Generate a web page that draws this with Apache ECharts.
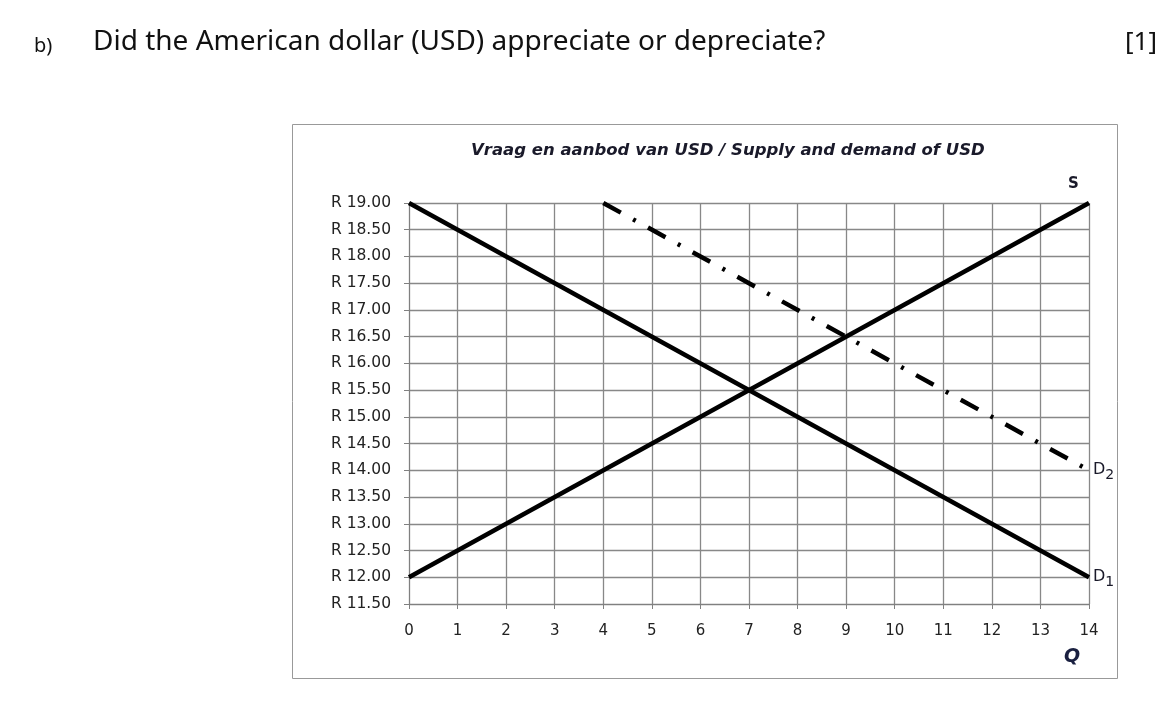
<!DOCTYPE html>
<html lang="en">
<head>
    <meta charset="UTF-8">
    <title>Supply and demand of USD</title>
    <script src="https://cdn.jsdelivr.net/npm/echarts@6/dist/echarts.min.js"></script>
    <style>
        body { margin: 0; background: #fff; }
        #main { width: 1172px; height: 726px; }
    </style>
</head>
<body>
    <div id="main"></div>
    <script>
        // data
        const quantities = [0, 14]
        const supply = [[0, 12], [14, 19]]
        const demand1 = [[0, 19], [14, 12]]
        const demand2 = [[4, 19], [14, 14]]
        const priceTicks = [11.5, 19]

        let chart = echarts.init(document.getElementById('main'))

        const lbl = (txt, sub) => ({
            show: true,
            position: 'right',
            distance: 4,
            formatter: '{a|' + txt + '}{b|' + sub + '}',
            rich: {
                a: { fontSize: 16, fontFamily: 'DejaVu Sans', color: '#1a1a2a' },
                b: { fontSize: 14, fontFamily: 'DejaVu Sans', color: '#1a1a2a', padding: [10, 0, 0, 0] }
            }
        })

        chart.setOption({
            animation: false,
            graphic: [
                { type: 'rect', shape: { x: 292.5, y: 124.5, width: 825, height: 554 },
                  style: { fill: 'none', stroke: '#999', lineWidth: 1 } },
                { type: 'text', left: 34, top: 36, style: { text: 'b)', font: '20px "Noto Sans"', fill: '#111' } },
                { type: 'text', left: 93, top: 28, style: { text: 'Did the American dollar (USD) appreciate or depreciate?', font: '28px "Noto Sans"', fill: '#111' } },
                { type: 'text', left: 1125, top: 30, style: { text: '[1]', font: '26px "Noto Sans"', fill: '#111' } },
                { type: 'text', left: 1068, top: 177, style: { text: 'S', font: 'bold 15px "DejaVu Sans"', fill: '#1a1a2a' } },
                { type: 'text', left: 1064, top: 648, style: { text: 'Q', font: 'italic bold 19px "DejaVu Sans"', fill: '#1a2040' } }
            ],
            title: {
                text: 'Vraag en aanbod van USD / Supply and demand of USD',
                left: 466, top: 137,
                textStyle: { fontStyle: 'italic', fontWeight: 'bold', fontSize: 16.5, fontFamily: 'DejaVu Sans', color: '#1a1a2a' }
            },
            grid: { left: 409, right: 83, top: 203, bottom: 122 },
            xAxis: {
                type: 'value', min: quantities[0], max: quantities[1], interval: 1,
                axisLine: { lineStyle: { color: '#808080' } },
                axisTick: { show: true, length: 5, lineStyle: { color: '#808080' } },
                axisLabel: { fontSize: 15, fontFamily: 'DejaVu Sans', color: '#222', margin: 20 },
                splitLine: { lineStyle: { color: '#888', width: 1.3 } }
            },
            yAxis: {
                type: 'value', min: priceTicks[0], max: priceTicks[1], interval: 0.5,
                axisLine: { show: true, lineStyle: { color: '#808080' } },
                axisTick: { show: true, length: 5, lineStyle: { color: '#808080' } },
                axisLabel: { fontSize: 15.5, fontFamily: 'DejaVu Sans', color: '#222', margin: 18,
                    formatter: v => 'R ' + v.toFixed(2) },
                splitLine: { lineStyle: { color: '#888', width: 1.3 } }
            },
            series: [
                { type: 'line', data: supply, symbol: 'none', lineStyle: { color: '#000', width: 4.5 } },
                { type: 'line', data: demand1, symbol: 'none', lineStyle: { color: '#000', width: 4.5 },
                  endLabel: lbl('D', '1') },
                { type: 'line', data: demand2, symbol: 'none',
                  lineStyle: { color: '#000', width: 4.5, type: [20, 14, 3, 14] },
                  endLabel: lbl('D', '2') }
            ]
        })
    </script>
</body>
</html>
